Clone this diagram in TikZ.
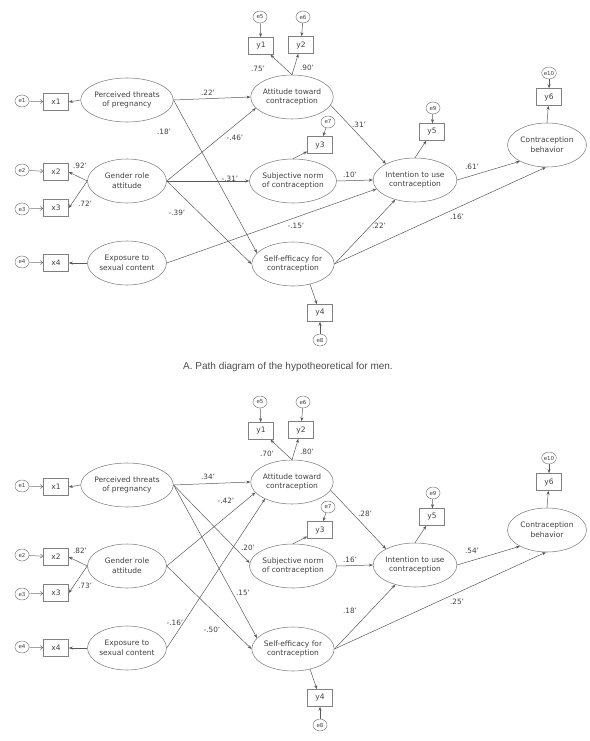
\documentclass[tikz,border=0pt]{standalone}
\usepackage{fontspec}
\setmainfont{DejaVu Sans}
\newfontfamily\capfont{Liberation Sans}
\usetikzlibrary{arrows.meta,shapes.geometric}
\tikzset{
  lat/.style={ellipse, draw=black!50, line width=0.55pt, minimum width=79pt, minimum height=44pt, inner sep=0pt, align=center, font=\fontsize{7.5}{9.8}\selectfont, text=black!75},
  obs/.style={rectangle, draw=black!50, line width=0.55pt, minimum width=25pt, minimum height=17pt, inner sep=0pt, font=\fontsize{7.5}{8}\selectfont, text=black!75},
  err/.style={ellipse, draw=black!50, line width=0.5pt, minimum width=14pt, minimum height=12pt, inner sep=0pt, font=\fontsize{5.5}{6}\selectfont, text=black!75},
  arr/.style={draw=black!65, line width=0.5pt, -{Stealth[length=4pt,width=3pt]}},
  earr/.style={draw=black!55, line width=0.5pt, -{Straight Barb[length=2.5pt,width=4pt]}},
  coef/.style={font=\fontsize{7.3}{8}\selectfont, text=black!75, inner sep=0pt}
}
\newcommand\semnodes[1]{%
  \node[lat] (#1pt) at (127,100) {Perceived threats\\of pregnancy};
  \node[lat] (#1gr) at (127,181) {Gender role\\attitude};
  \node[lat] (#1ex) at (127,263) {Exposure to\\sexual content};
  \node[lat] (#1at) at (292,97) {Attitude toward\\contraception};
  \node[lat] (#1sn) at (293,181) {Subjective norm\\of contraception};
  \node[lat] (#1se) at (293,264) {Self-efficacy for\\contraception};
  \node[lat] (#1in) at (415,180) {Intention to use\\contraception};
  \node[lat] (#1cb) at (547,145) {Contraception\\behavior};
  \node[obs] (#1x1) at (56,102) {x1};
  \node[obs] (#1x2) at (56,172) {x2};
  \node[obs] (#1x3) at (56,208) {x3};
  \node[obs] (#1x4) at (56,263) {x4};
  \node[obs] (#1y1) at (261,46) {y1};
  \node[obs] (#1y2) at (301,45) {y2};
  \node[obs] (#1y3) at (320,145) {y3};
  \node[obs] (#1y4) at (320,313) {y4};
  \node[obs] (#1y5) at (432,132) {y5};
  \node[obs] (#1y6) at (549,97) {y6};
  \node[err] (#1e1) at (22,101) {e1};
  \node[err] (#1e2) at (22,170) {e2};
  \node[err] (#1e3) at (22,209) {e3};
  \node[err] (#1e4) at (22,262) {e4};
  \node[err] (#1e5) at (260,17) {e5};
  \node[err] (#1e6) at (303,17) {e6};
  \node[err] (#1e7) at (328,122) {e7};
  \node[err] (#1e8) at (320,340) {e8};
  \node[err] (#1e9) at (433,108) {e9};
  \node[err] (#1e10) at (549,73) {e10};
  \draw[earr] (#1e1) -- (#1x1);
  \draw[earr] (#1e2) -- (#1x2);
  \draw[earr] (#1e3) -- (#1x3);
  \draw[earr] (#1e4) -- (#1x4);
  \draw[arr] (#1e5) -- (#1y1);
  \draw[arr] (#1e6) -- (#1y2);
  \draw[arr] (#1e7) -- (#1y3);
  \draw[arr] (#1e8) -- (#1y4);
  \draw[arr] (#1e9) -- (#1y5);
  \draw[arr] (#1e10) -- (#1y6);
  \draw[arr] (#1pt.west) -- (#1x1.east);
  \draw[arr] (#1gr.west) -- (#1x2.east);
  \draw[arr] (#1gr.west) -- (#1x3.east);
  \draw[arr] (#1ex.west) -- (#1x4.east);
  \draw[arr] (#1at.north) -- (#1y1);
  \draw[arr] (#1at.north) -- (#1y2);
  \draw[arr] (#1sn.north) -- (#1y3);
  \draw[arr] (#1se.-50) -- (#1y4);
  \draw[arr] (#1in.north) -- (#1y5);
  \draw[arr] (#1cb.north) -- (#1y6);
  \draw[arr] (#1at.-12) -- (#1in.151);
  \draw[arr] (#1sn.east) -- (#1in.west);
  \draw[arr] (#1se.east) -- (#1in.-135);
  \draw[arr] (#1in.east) -- (#1cb.211);
  \draw[arr] (#1se.east) -- (#1cb.-93);
}
\begin{document}
\begin{tikzpicture}[x=1pt,y=-1pt]
\useasboundingbox (0,0) rectangle (589,741);
% ---------- upper diagram (men) ----------
\begin{scope}
  \semnodes{a}
  \draw[arr] (apt.east) -- (aat.west);
  \draw[arr] (apt.east) -- (ase.163);
  \draw[arr] (agr.east) -- (aat.197);
  \draw[arr] (agr.east) -- (asn.west);
  \draw[arr] (agr.east) -- (ase.west);
  \draw[arr] (aex.east) -- (ain.193);
\end{scope}
\node[coef] (a75) at (258,69) {.75'};
\node[coef] (a90) at (307,68) {.90'};
\node[coef] (a22) at (208,93) {.22'};
\node[coef] (a18) at (164,132) {.18'};
\node[coef] (a46) at (235,138) {-.46'};
\node[coef] (a92) at (80,166) {.92'};
\node[coef] (a72) at (85,204) {.72'};
\node[coef] (a31n) at (230,179) {-.31'};
\node[coef] (a39) at (177,213) {-.39'};
\node[coef] (a15) at (296,226) {-.15'};
\node[coef] (a31) at (359,125) {.31'};
\node[coef] (a10) at (350,175) {.10'};
\node[coef] (a61) at (472,167) {.61'};
\node[coef] (a16) at (457,217) {.16'};
\node[coef] (a22b) at (379,226) {.22'};
\node[font=\capfont\fontsize{10}{12}\selectfont, text=black!70, inner sep=0pt] (cap) at (288,367) {A. Path diagram of the hypotheoretical for men.};
% ---------- lower diagram ----------
\begin{scope}[yshift=-385pt]
  \semnodes{b}
  \draw[arr] (bpt.east) -- (bat.west);
  \draw[arr] (bpt.east) -- (bsn.176);
  \draw[arr] (bpt.east) -- (bse.163);
  \draw[arr] (bgr.east) -- (bat.196);
  \draw[arr] (bgr.east) -- (bse.west);
  \draw[arr] (bex.east) -- (bat.212);
\end{scope}
\node[coef] (b70) at (267,454) {.70'};
\node[coef] (b80) at (307,452) {.80'};
\node[coef] (b34) at (208,477) {.34'};
\node[coef] (b42) at (226,501) {-.42'};
\node[coef] (b82) at (80,551) {.82'};
\node[coef] (b73) at (85,586) {.73'};
\node[coef] (b20) at (248,548) {.20'};
\node[coef] (b15) at (243,593) {.15'};
\node[coef] (b16n) at (175,623) {-.16'};
\node[coef] (b50) at (212,630) {-.50'};
\node[coef] (b28) at (365,514) {.28'};
\node[coef] (b16) at (350,560) {.16'};
\node[coef] (b18) at (350,611) {.18'};
\node[coef] (b54) at (472,551) {.54'};
\node[coef] (b25) at (457,602) {.25'};
\end{tikzpicture}
\end{document}
